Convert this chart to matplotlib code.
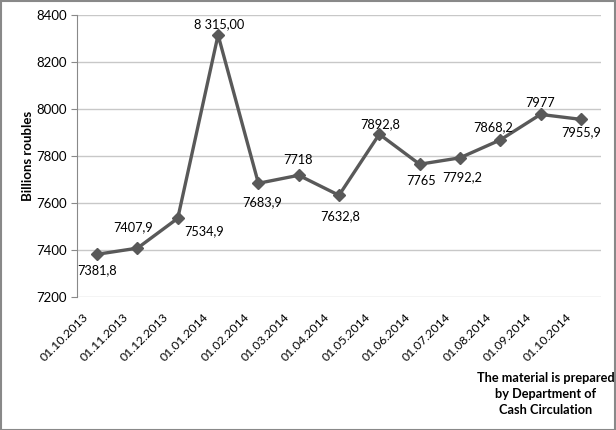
import matplotlib
matplotlib.use('Agg')
import matplotlib.pyplot as plt
import matplotlib.transforms as mtransforms

dates = ["01.10.2013", "01.11.2013", "01.12.2013", "01.01.2014", "01.02.2014",
         "01.03.2014", "01.04.2014", "01.05.2014", "01.06.2014", "01.07.2014",
         "01.08.2014", "01.09.2014", "01.10.2014"]
values = [7381.8, 7407.9, 7534.9, 8315.0, 7683.9, 7718, 7632.8, 7892.8,
          7765, 7792.2, 7868.2, 7977, 7955.9]
labels = ["7381,8", "7407,9", "7534,9", "8 315,00", "7683,9", "7718", "7632,8",
          "7892,8", "7765", "7792,2", "7868,2", "7977", "7955,9"]
# label offsets in pixels (dx, dy)
offsets = [(0, -16), (-4, 21), (26, -13), (1, 11), (4, -19), (-1, 15), (1, -21),
           (1, 10), (1, -17), (2, -19), (-7, 13), (0, 11), (0, -13)]

plt.rcParams['font.family'] = ['Lato', 'DejaVu Sans']
fig = plt.figure(figsize=(6.16, 4.30), dpi=100)
ax = fig.add_axes([77 / 616, 1 - 297 / 430, 524 / 616, 282 / 430])

x = range(len(values))
ax.plot(x, values, color="#595959", lw=2.4, marker="D", markersize=6.5)
for i, (v, lab) in enumerate(zip(values, labels)):
    ax.annotate(lab, (i, v), xytext=offsets[i], textcoords="offset pixels",
                ha="center", va="center", fontsize=9.2, color="black")

ax.set_xlim(-0.5, len(values) - 0.5)
ax.set_ylim(7200, 8400)
ax.set_yticks(range(7200, 8401, 200))
ax.set_xticks(list(x))
ax.set_xticklabels(dates, rotation=45, ha="right", rotation_mode="anchor", fontsize=8.8)
ax.tick_params(axis="x", length=0, pad=10)
ax.tick_params(axis="y", length=4, color="#898989", labelsize=9.5)
shift = mtransforms.ScaledTranslation(-15 / 100, 0, fig.dpi_scale_trans)
for t in ax.get_xticklabels():
    t.set_transform(t.get_transform() + shift)
ax.grid(axis="y", color="#c8c8c8", lw=1)
ax.set_axisbelow(True)
for s in ["top", "right", "bottom"]:
    ax.spines[s].set_visible(False)
ax.spines["left"].set_color("#898989")
ax.set_ylabel("Billions roubles", fontsize=9.5, fontweight="bold")
ax.yaxis.set_label_coords(-(77 - 34) / 524, 0.5)

fig.text(546 / 616, 1 - 394 / 430, "The material is prepared\nby Department of\nCash Circulation",
         ha="center", va="center", fontsize=9.2, fontweight="bold", linespacing=1.4)

fig.patches.append(plt.Rectangle((0.001, 0.001), 0.997, 0.997, transform=fig.transFigure,
                                 fill=False, edgecolor="#898989", lw=1.5))
fig.savefig("out.png", dpi=100)
